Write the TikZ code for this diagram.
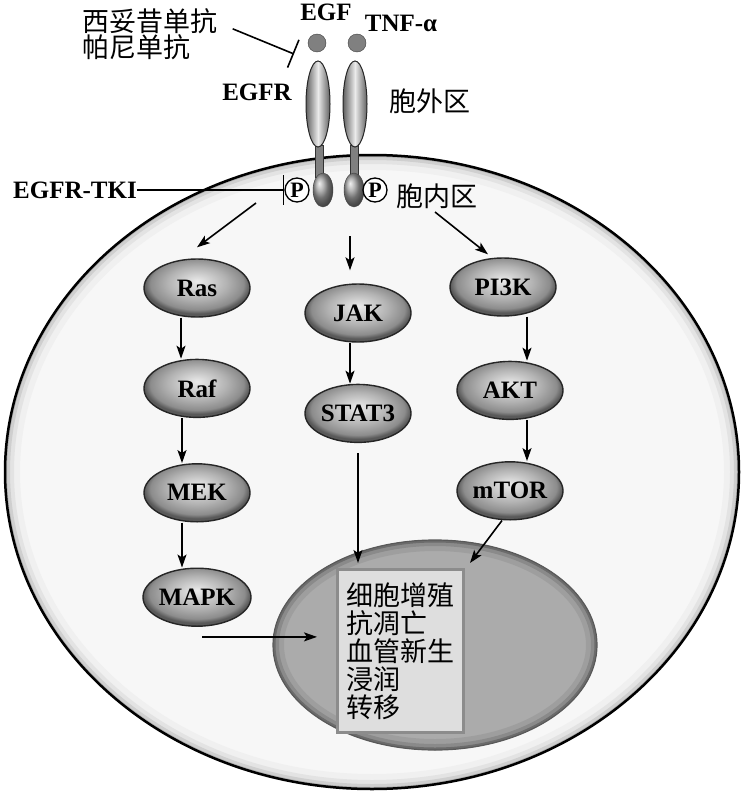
\documentclass[tikz,border=0pt]{standalone}
\usepackage{fontspec}
\setmainfont{Liberation Serif}
\newfontfamily\cjk{Noto Sans CJK SC}
\usetikzlibrary{shapes.geometric,arrows.meta,positioning}
\pgfdeclareradialshading{knob}{\pgfpoint{0bp}{6bp}}{color(0bp)=(black!8); color(14bp)=(black!30); color(22bp)=(black!45); color(25bp)=(black!65); color(50bp)=(black!65)}

\begin{document}
\begin{tikzpicture}[x=1pt,y=-1pt,
    kinase/.style={ellipse,draw=black!85,line width=1.4pt,shading=knob,minimum width=106pt,minimum height=58pt,inner sep=0pt,font=\bfseries\fontsize{25}{25}\selectfont},
    lbl/.style={inner sep=0pt,font=\bfseries\fontsize{25}{25}\selectfont},
    zh/.style={inner sep=0pt,font=\cjk\fontsize{27}{27}\selectfont},
    outbox/.style={rectangle,fill=black!13,draw=black!45,line width=3pt,minimum width=126pt,minimum height=163pt,text width=108pt,inner sep=9pt,align=left,font=\cjk\fontsize{27}{28}\selectfont},
    phos/.style={circle,draw,line width=1.3pt,fill=white,minimum size=24pt,inner sep=0pt,font=\bfseries\fontsize{22}{22}\selectfont},
    arr/.style={line width=1.6pt,-{Stealth[length=13pt,width=9pt,inset=3pt]}},
    blk/.style={line width=1.6pt,-{Bar[width=30pt]}}]
    \useasboundingbox (0,0) rectangle (743,795);
    \fill[black!3] (372,472) ellipse [x radius=367pt, y radius=317pt];
    \begin{scope}
    \clip (372,472) ellipse [x radius=367pt, y radius=317pt];
    \foreach \w/\c in {30/6,18/11,10/19,4/32}
        \draw[black!\c, line width=\w pt] (372,472) ellipse [x radius=367pt, y radius=317pt];
    \end{scope}
    \draw[line width=2.5pt] (372,472) ellipse [x radius=367pt, y radius=317pt];
    \fill[black!33] (435,645) ellipse [x radius=162pt, y radius=105pt];
    \begin{scope}
    \clip (435,645) ellipse [x radius=162pt, y radius=105pt];
    \foreach \w/\c in {22/38,12/46,5/58}
        \draw[black!\c, line width=\w pt] (435,645) ellipse [x radius=162pt, y radius=105pt];
    \end{scope}
    \draw[black!65, line width=1.2pt] (435,645) ellipse [x radius=162pt, y radius=105pt];
    \node[outbox] (fate) at (400,651) {细胞增殖\\抗凋亡\\血管新生\\浸润\\转移};

    \filldraw[fill=black!50, draw=black!80, line width=0.8pt] (315,145) rectangle (323,177);
    \filldraw[fill=black!50, draw=black!80, line width=0.8pt] (350,145) rectangle (358,177);
    \shade[left color=black!62, right color=black!62, middle color=black!8, draw=black!85, line width=1pt] (318,104) ellipse [x radius=12pt, y radius=43pt];
    \shade[left color=black!62, right color=black!62, middle color=black!8, draw=black!85, line width=1pt] (355,104) ellipse [x radius=12pt, y radius=43pt];
    \shade[ball color=black!38, draw=black!75] (323,190) ellipse [x radius=10pt, y radius=17pt];
    \shade[ball color=black!38, draw=black!75] (354,190) ellipse [x radius=10pt, y radius=17pt];
    \filldraw[fill=black!50, draw=black!75] (317,43) circle [radius=9pt];
    \filldraw[fill=black!50, draw=black!75] (357,43) circle [radius=9pt];

    \node[lbl] (egf) at (326,12) {EGF};
    \node[lbl] (tnf) at (401,23) {TNF-α};
    \node[zh] (cet) at (150,21) {西妥昔单抗};
    \node[zh, anchor=west] (pan) at (82,47) {帕尼单抗};
    \node[lbl] (egfr) at (257,92) {EGFR};
    \node[zh] (extra) at (430,101) {胞外区};
    \node[lbl, anchor=east] (tki) at (137,190) {EGFR-TKI};
    \node[zh] (intra) at (437,196) {胞内区};
    \node[phos] (pL) at (297,190) {P};
    \node[phos] (pR) at (375,190) {P};

    \node[kinase] (Ras) at (197,288) {Ras};
    \node[kinase, below=41pt of Ras] (Raf) {Raf};
    \node[kinase, below=45pt of Raf] (MEK) {MEK};
    \node[kinase, below=45pt of MEK] (MAPK) {MAPK};
    \node[kinase] (JAK) at (358,313) {JAK};
    \node[kinase, below=41pt of JAK] (STAT3) {STAT3};
    \node[kinase] (PI3K) at (503,287) {PI3K};
    \node[kinase, below=44pt of PI3K, xshift=7pt] (AKT) {AKT};
    \node[kinase, below=41pt of AKT] (mTOR) {mTOR};

    \coordinate (sL) at (256,203);
    \coordinate (sR) at (435,212);
    \coordinate (nucS) at (358,563);
    \coordinate (nucNE) at (470,563);
    \coordinate (nucW) at (317,638);
    \coordinate (mapkOut) at ([shift={(5,10)}]MAPK.south);
    \draw[blk] ([shift={(15,-5)}]cet.south east) -- (294,54);
    \draw[blk, line width=1.2pt] (tki.east) -- (pL.west);
    \draw[arr] (sL) -- ([yshift=11pt]Ras.north);
    \draw[arr] ([shift={(-8,-47)}]JAK.north) -- ([shift={(-8,-13)}]JAK.north);
    \draw[arr] (sR) -- ([xshift=-15pt,yshift=3pt]PI3K.north);
    \draw[arr] ([xshift=-16pt]Ras.south) -- ([xshift=-16pt]Raf.north);
    \draw[arr] ([xshift=-15pt]Raf.south) -- ([xshift=-15pt]MEK.north);
    \draw[arr] ([xshift=-15pt]MEK.south) -- ([xshift=-15pt]MAPK.north);
    \draw[arr] ([xshift=-8pt]JAK.south) -- ([xshift=-8pt]STAT3.north);
    \draw[arr] ([xshift=24pt]PI3K.south) -- ([xshift=17pt]AKT.north);
    \draw[arr] ([xshift=17pt]AKT.south) -- ([xshift=17pt]mTOR.north);
    \draw[arr] ([yshift=-10pt]STAT3.south) -- (nucS);
    \draw[arr] ([xshift=-8pt]mTOR.south) -- (nucNE);
    \draw[arr] (mapkOut) -- (mapkOut -| nucW);
\end{tikzpicture}
\end{document}
